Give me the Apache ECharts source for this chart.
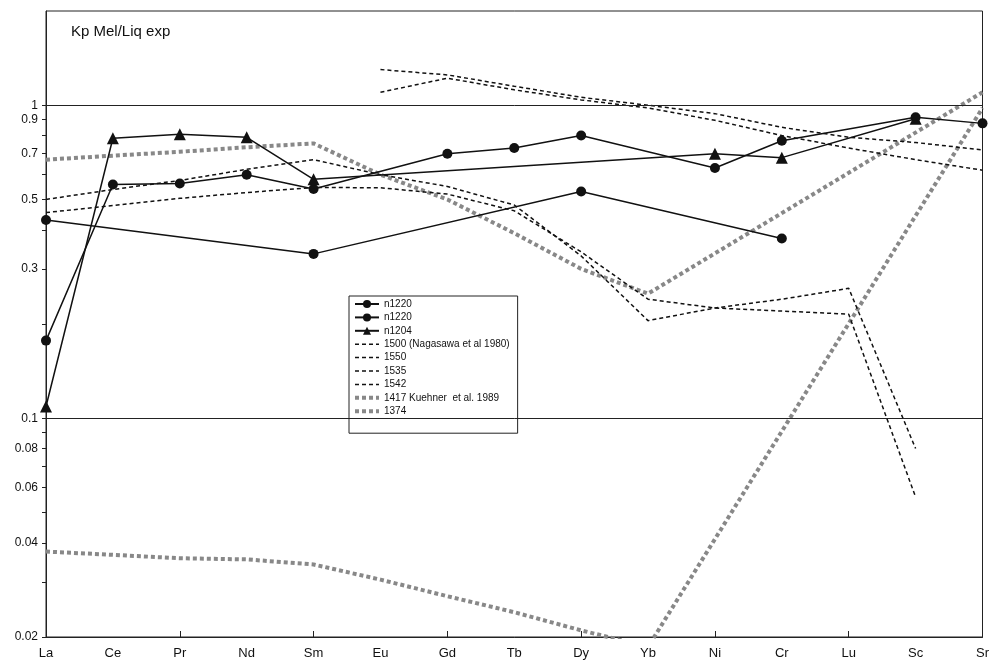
<!DOCTYPE html>
<html>
<head>
<meta charset="utf-8">
<script src="https://cdn.jsdelivr.net/npm/echarts@6/dist/echarts.min.js"></script>
<style>
  html, body { margin: 0; padding: 0; background: #fff; }
  #chart { width: 992px; height: 664px; }
</style>
</head>
<body>
<div id="chart"></div>
<script>
// Element order along the x axis
const elements = ['La','Ce','Pr','Nd','Sm','Eu','Gd','Tb','Dy','Yb','Ni','Cr','Lu','Sc','Sr'];

// Melilite/liquid partition coefficients (null = not measured)
const n1220a = [0.177, 0.558, 0.562, 0.60, 0.54, null, 0.70, 0.73, 0.80, null, 0.63, 0.77, null, 0.915, 0.875];
const n1220b = [0.43, null, null, null, 0.335, null, null, null, 0.53, null, null, 0.375, null, null, null];
const n1204  = [0.109, 0.784, 0.807, 0.79, 0.58, null, null, null, null, null, 0.70, 0.68, null, 0.905, null];

// Nagasawa et al. 1980
const k1500 = [0.50, 0.538, 0.575, 0.624, 0.67, 0.60, 0.55, 0.48, 0.33, 0.205, 0.225, 0.24, 0.26, 0.08, null];
const k1550 = [0.454, 0.478, 0.504, 0.526, 0.546, 0.545, 0.52, 0.46, 0.34, 0.24, 0.225, 0.22, 0.215, 0.056, null];
const k1535 = [null, null, null, null, null, 1.30, 1.25, 1.15, 1.06, 1.0, 0.94, 0.85, 0.79, 0.76, 0.72];
const k1542 = [null, null, null, null, null, 1.10, 1.22, 1.12, 1.04, 0.98, 0.895, 0.80, 0.73, 0.67, 0.62];

// Kuehner et al. 1989
const k1417 = [0.67, 0.69, 0.71, 0.734, 0.755, 0.60, 0.50, 0.39, 0.30, 0.25, null, null, null, null, 1.10];
const k1374 = [0.0375, 0.0366, 0.0357, 0.0354, 0.0341, 0.0305, 0.027, 0.024, 0.021, 0.0186, null, null, null, null, 0.98];

// Y axis tick and label positions
const yTickValues  = [0.02,0.03,0.04,0.05,0.06,0.07,0.08,0.09,0.1,0.2,0.3,0.4,0.5,0.6,0.7,0.8,0.9,1];
const yLabelValues = [0.02,0.04,0.06,0.08,0.1,0.3,0.5,0.7,0.9,1];
const refLines = [1, 0.1];

const FONT = 'Liberation Sans, Arial, sans-serif';

function solid(name, data, symbol, size) {
  return {
    name, type: 'line', data, connectNulls: true,
    symbol, symbolSize: size, showSymbol: true,
    itemStyle: { color: '#111' },
    lineStyle: { color: '#111', width: 1.5, type: 'solid' },
    z: 5
  };
}
function dashed(name, data) {
  return {
    name, type: 'line', data, connectNulls: true,
    symbol: 'none',
    itemStyle: { color: '#111' },
    lineStyle: { color: '#111', width: 1.5, type: [4, 3] },
    z: 3
  };
}
function dotted(name, data) {
  return {
    name, type: 'line', data, connectNulls: true,
    symbol: 'none',
    itemStyle: { color: '#888' },
    lineStyle: { color: '#888', width: 4, type: [4, 3] },
    z: 2
  };
}

const series = [
  solid('n1220-a', n1220a, 'circle', 10),
  solid('n1220-b', n1220b, 'circle', 10),
  solid('n1204', n1204, 'triangle', 12),
  dashed('1500 (Nagasawa et al 1980)', k1500),
  dashed('1550', k1550),
  dashed('1535', k1535),
  dashed('1542', k1542),
  dotted('1417 Kuehner  et al. 1989', k1417),
  dotted('1374', k1374)
];
series[0].markLine = {
  silent: true, symbol: 'none', animation: false,
  label: { show: false },
  lineStyle: { color: '#222', width: 1, type: 'solid' },
  data: refLines.map(v => ({ yAxis: v }))
};

// Legend entries: line-only series get no marker in their key
const legendData = series.map(s => s.symbol === 'none'
  ? { name: s.name, itemStyle: { opacity: 0 },
      lineStyle: { width: s.lineStyle.width, type: s.lineStyle.type, color: s.lineStyle.color } }
  : { name: s.name });

const chart = echarts.init(document.getElementById('chart'), null, { renderer: 'canvas' });
chart.setOption({
  animation: false,
  backgroundColor: '#fff',
  title: {
    text: 'Kp Mel/Liq exp',
    left: 66, top: 19,
    textStyle: { fontFamily: FONT, fontSize: 15, fontWeight: 'normal', color: '#111' }
  },
  grid: {
    left: 46, right: 7, top: 11, bottom: 27,
    show: true, borderColor: '#222', borderWidth: 1, backgroundColor: 'transparent'
  },
  legend: {
    orient: 'vertical',
    left: 349, top: 296,
    padding: [3, 8, 17, 4],
    itemWidth: 24, itemHeight: 10, itemGap: 3.4,
    backgroundColor: '#fff',
    borderColor: '#222', borderWidth: 1,
    formatter: name => name.replace(/-[ab]$/, ''),
    textStyle: { fontFamily: FONT, fontSize: 10, color: '#111', lineHeight: 10 },
    data: legendData
  },
  xAxis: {
    type: 'category',
    data: elements,
    boundaryGap: false,
    axisLine: { lineStyle: { color: '#222', width: 1 } },
    axisTick: { show: true, inside: true, length: 6, interval: 1, lineStyle: { color: '#222' } },
    axisLabel: { interval: 0, margin: 10, fontFamily: FONT, fontSize: 13, color: '#111' },
    splitLine: { show: false }
  },
  yAxis: {
    type: 'log',
    logBase: 10,
    min: 0.02, max: 2,
    axisLine: { show: true, lineStyle: { color: '#222', width: 1 } },
    axisTick: { show: true, inside: false, length: 4, customValues: yTickValues, lineStyle: { color: '#222' } },
    axisLabel: {
      customValues: yLabelValues,
      margin: 8,
      fontFamily: FONT, fontSize: 12, color: '#111',
      formatter: v => String(+(+v).toPrecision(3))
    },
    splitLine: { show: false },
    minorTick: { show: false }
  },
  series
});
</script>
</body>
</html>
